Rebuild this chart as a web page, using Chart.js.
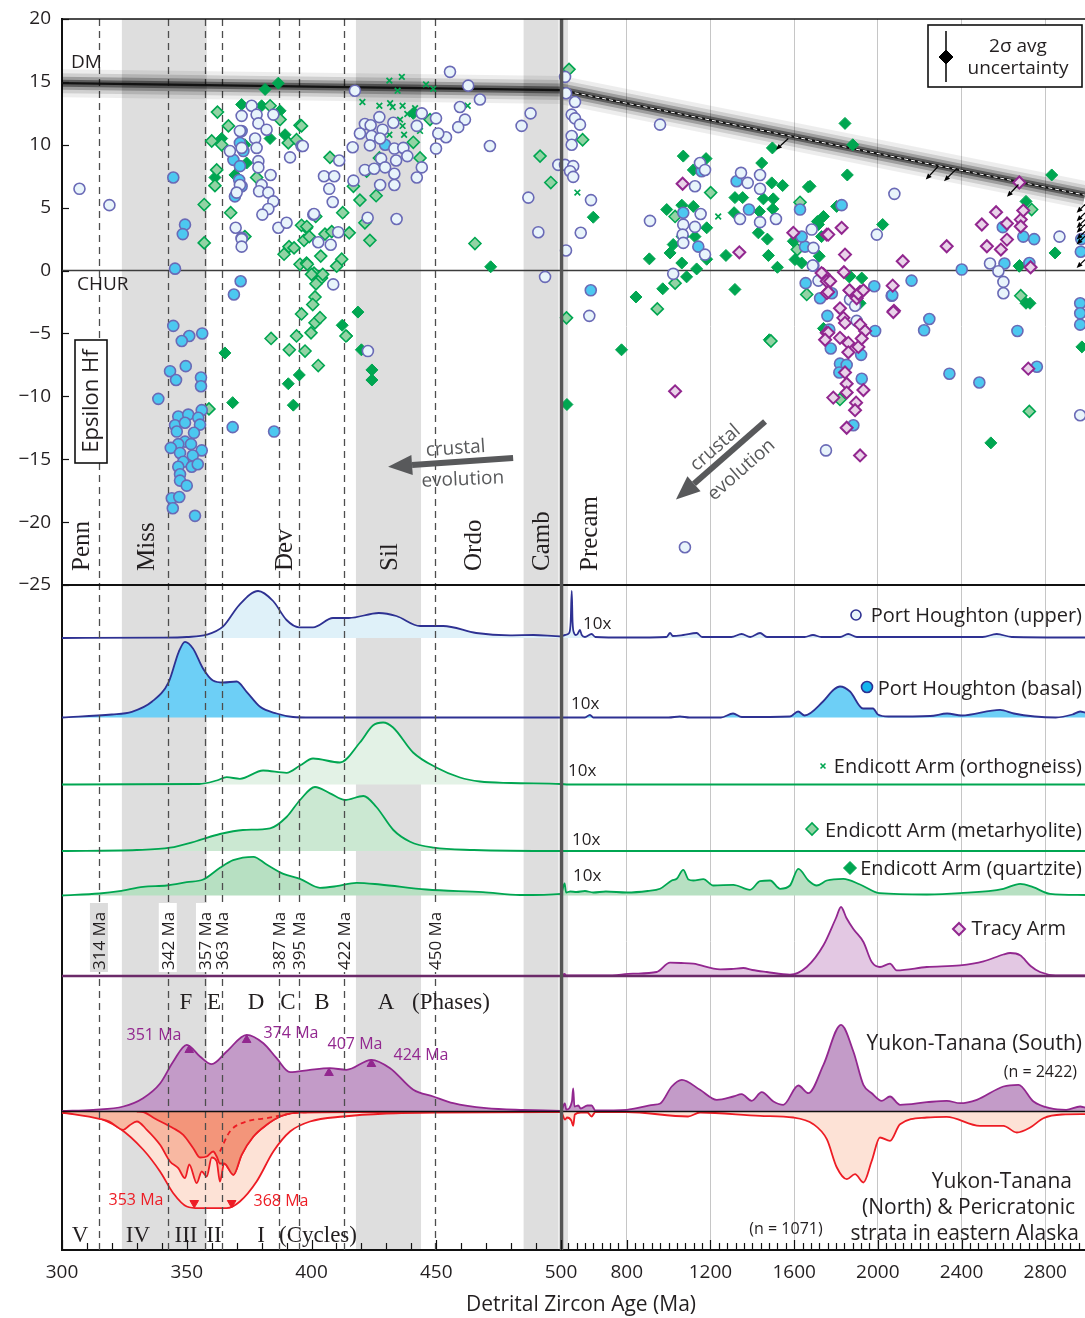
<!DOCTYPE html>
<html>
<head>
<meta charset="utf-8">
<script src="https://cdn.jsdelivr.net/npm/chart.js@4.4.1/dist/chart.umd.min.js"></script>
<style>
  body { margin: 0; background: #fff; }
  canvas { display: block; }
</style>
</head>
<body>
<canvas id="hfChart" width="1085" height="1318"></canvas>
<script>
// Hf isotope vs detrital zircon age, with stacked age spectra below

const SANS = '"Open Sans", "Noto Sans", sans-serif';
const SERIF = '"Liberation Serif", "DejaVu Serif", serif';
const INK = '#231f20';

// ---- tick labels ----
const ageLabels = [300, 350, 400, 450, 500, 800, 1200, 1600, 2000, 2400, 2800];
const gridAges = [800, 1200, 1600, 2000, 2400, 2800];
const epsTicks = [20, 15, 10, 5, 0, -5, -10, -15, -20, -25];

// ---- period bands / reference ages ----
const periodBands = [[324, 358], [417.8, 443.9], [485, 499]];
const periodNames = ['Penn', 'Miss', 'Dev', 'Sil', 'Ordo', 'Camb', 'Precam'];
const dashAges = [314.8, 342.4, 357.3, 364.2, 387, 394.9, 413.1, 449.4];
const dashLabels = ['314 Ma', '342 Ma', '357 Ma', '363 Ma', '387 Ma', '395 Ma', '422 Ma', '450 Ma'];

// ---- depleted mantle (age, eHf) ----
const dmLine = [[300, 14.9], [500, 14.35], [2990, 6.0]];
const dmRight = [[500, 14.35], [2990, 6.0]];
const dmArrows = [
  [1572, 10.5, 1513, 9.6], [2289, 8.3, 2229, 7.23], [2377, 8.1, 2316, 7.1], [2672, 6.84, 2617, 5.86],
  [2990, 5.25, 2950, 4.59], [2990, 4.59, 2950, 3.92], [2990, 4.05, 2950, 3.39], [2990, 3.66, 2950, 3.0],
  [2990, 3.12, 2950, 2.46], [2990, 2.73, 2950, 2.07], [2990, 0.87, 2950, 0.21]
];
const crustalArrows = [[480.8, -14.9, 430.7, -15.6], [1461, -12.0, 1035, -18.2]];

// ---- Hf data points (age Ma, epsilon Hf) ----
const upperPts = [
  [307, 6.5], [319, 5.2], [376, 13.1], [372, 12.3], [378, 12.4], [384.7, 12.4], [378.7, 11.7], [382, 11.2],
  [377.4, 10.5], [371.3, 11.1], [378, 9.75], [367.3, 9.5], [372, 9.75], [378.7, 8.7], [378.7, 8.2], [383.6, 7.6],
  [380, 6.8], [379, 6.3], [382.7, 6.2], [384.7, 5.5], [382.7, 4.9], [380.3, 4.45], [386.7, 3.4], [390, 3.8],
  [391.4, 9.0], [396, 9.9], [369.6, 3.4], [372, 2.5], [372, 1.9], [400.7, 4.45], [371.3, 6.8], [370, 6.2],
  [417.4, 14.3], [455.5, 15.8], [462.8, 14.7], [467.5, 13.6], [459.5, 13.0], [461.5, 12.0], [458.8, 11.4],
  [453.9, 10.6], [449.9, 12.1], [450.8, 10.9], [449.9, 9.7], [471.5, 9.9], [444.2, 12.5], [421.4, 11.65],
  [427.2, 12.2], [423.7, 11.55], [432.8, 11.75], [419.4, 10.9], [424.1, 10.7], [428.5, 11.2], [442.2, 11.5],
  [416.5, 9.8], [423.4, 9.95], [427.5, 10.5], [433.2, 9.7], [436.8, 9.75], [438.4, 9.1], [433.9, 8.75],
  [427.9, 8.9], [421.4, 8.0], [425.1, 8.1], [429.5, 8.2], [433.2, 7.7], [433.2, 6.8], [427.5, 6.8], [444.2, 8.2],
  [442.2, 7.4], [416.8, 7.15], [411.1, 8.75], [405, 7.5], [409.1, 7.5], [407.1, 6.5], [408.5, 5.45], [401, 4.5],
  [410.7, 3.05], [402.7, 2.25], [407.7, 2.05], [422.5, 4.2], [434.1, 4.1], [408.7, -1.1], [396.5, 9.9],
  [486.9, 5.8], [490.9, 3.05], [493.6, -0.5], [484.2, 11.5], [487.8, 12.5], [498.9, 8.4], [422.6, -6.4],
  [505, 15.4], [510, 14.1], [552.6, 13.4], [536.8, 12.4], [552.6, 12.1], [576.5, 11.6], [536.8, 10.7],
  [536.8, 10.0], [505, 8.4], [544, 8.3], [529, 7.9], [544, 7.45], [629, 5.6], [580, 3.0], [509.6, 1.6],
  [621, -3.6], [959, 11.6], [1150, 8.55], [1174, 8.0], [1126, 6.7], [911, 3.95], [1153, 4.5], [1126, 3.47],
  [1070, 3.65], [1067, 2.86], [1070, 2.2], [1174, 1.27], [1022, -0.26], [1346, 7.77], [1437, 7.6], [1378, 6.97],
  [1437, 6.5], [1341, 4.1], [1437, 3.85], [1513, 4.1], [1684, 3.26], [1692, 1.8], [1692, 0.4], [2079, 6.1],
  [1995, 2.86], [2536, 0.56], [2576, -0.05], [2600, -0.9], [2600, -1.8], [2868, 2.7], [1716, -0.8],
  [1867, -2.3], [1891, -2.8], [1899, -4.0], [1752, -14.3], [2967, -11.5], [1078, -22], [1689, 0.4]
];
const basalPts = [
  [344.6, 7.4], [349.3, 3.65], [348.4, 2.9], [345.3, 0.15], [371.6, -0.85], [368.9, -1.9], [371.3, 10.15],
  [368.7, 8.8], [371.3, 8.3], [371, 7.2], [369.3, 5.9], [372, 6.7], [372, 2.6], [372, 11.1], [372.7, 9.5],
  [429.5, 10.0], [344.6, -4.4], [351, -5.2], [348, -5.6], [356.2, -5.0], [349.6, -7.6], [343.3, -8.0],
  [345.7, -8.7], [355.7, -8.5], [355.7, -9.2], [338.6, -10.2], [356, -11.1], [368.4, -12.45], [385, -12.8],
  [346.6, -11.6], [350.6, -11.45], [354.6, -11.7], [345.3, -12.3], [349.3, -12.1], [355.3, -12.25], [346, -12.8],
  [352.9, -12.9], [349.3, -13.6], [346.6, -13.8], [351.7, -13.8], [343.6, -14.1], [356, -14.3], [347.3, -14.5],
  [352.4, -14.7], [348.6, -15.2], [346.6, -15.6], [352, -15.6], [354.4, -15.4], [347.3, -16.2], [347.3, -16.7],
  [350, -17.1], [344, -18.1], [347, -18.0], [344.4, -18.9], [353.3, -19.5],
  [1325, 7.1], [1384, 4.85], [1628, 4.85], [1070, 4.6], [1142, 1.9], [1652, 1.9], [1636, 2.7], [628, -1.57],
  [1655, -1.0], [1724, -2.2], [1158, 7.9], [1827, 5.2], [2401, 0.08], [2605, 0.56], [2695, 2.7], [2747, 2.5],
  [2597, 3.45], [2724, 0.6], [2161, -0.8], [1983, -1.25], [2066, -2.0], [1780, -1.8], [1759, -3.6],
  [2246, -3.85], [2221, -4.75], [1987, -4.8], [2667, -4.8], [2967, -2.6], [2967, -3.4], [2967, -4.3],
  [2970, 1.5], [2972, 2.5], [1768, -4.7], [1775, -6.2], [1819, -7.4], [1816, -8.1], [1851, -7.5],
  [1920, -6.7], [1923, -8.6], [1883, -12.3], [2342, -8.2], [2485, -8.9], [2760, -7.65], [2069, -1.96]
];
const orthoPts = [
  [431.2, 15.1], [436.2, 15.4], [434.5, 14.3], [445.9, 14.8], [448.8, 14.45], [420.4, 13.4], [427.2, 13.1],
  [431.5, 13.3], [432.5, 13.0], [436.5, 13.1], [441.5, 12.9], [438.4, 12.45], [435.5, 12.0], [462.6, 13.1],
  [436.5, 11.5], [437.1, 10.8], [431.2, 10.8], [443.5, 11.1], [564, 6.2], [1237, 4.3]
];
const metaPts = [
  [362.3, 12.6], [366.7, 11.5], [360, 10.3], [364, 10.0], [362, 8.0], [361.3, 6.75], [357, 5.25], [357, 2.2],
  [367.6, 4.6], [383.4, 13.1], [387.4, 12.0], [395.4, 11.55], [390.7, 10.15], [394, 10.4], [378, 7.4],
  [373.3, 2.7], [398, 3.4], [396, 3.6], [389, 1.3], [391, 1.9], [393, 1.8], [397, 2.4], [395.4, 0.5], [398, 0.6],
  [401, -0.2], [404, -0.6], [396, 11.5], [407.4, 9.0], [416.8, 6.7], [419.4, 5.6], [425.9, 5.95], [412.5, 4.6],
  [401.7, 4.3], [398.1, 3.5], [399.1, 2.7], [405.4, 2.9], [408.1, 3.1], [415.1, 3.0], [421.4, 3.8], [423.4, 2.4],
  [403.7, 1.15], [412.1, 0.9], [410.1, 0.35], [398.3, 0.5], [400, -0.3], [401.8, -1.05], [401.4, -2.1],
  [440.8, 10.2], [443.5, 8.95], [447.5, 12.0], [465.5, 2.15], [491.6, 9.1], [495.9, 7.0], [427.2, 8.95],
  [422.1, 7.9], [358.9, -11.0], [383.8, -5.4], [391.1, -6.3], [397.4, -6.4], [394, -5.2], [402.7, -7.55],
  [396, -3.45], [400.5, -2.7], [404.5, -0.3], [413.8, -5.2], [401.4, -4.15], [403.4, -3.75], [399.8, -4.95],
  [589, 10.4], [1201, 6.2], [1628, 5.43], [1031, 4.3], [1067, 2.7], [1031, -1.0], [946, -3.05], [512, -3.76],
  [1660, -1.9], [1615, 1.67], [2735, 4.85], [1819, -10.25], [2724, -11.2], [2683, -2.0], [1489, -5.6], [524, 16.0]
];
const quartzPts = [
  [381.4, 14.4], [386.7, 14.9], [372, 13.2], [380, 13.1], [387.4, 12.7], [364, 10.5], [383.4, 10.5],
  [389.4, 10.8], [361.3, 7.4], [373.3, 10.0], [374, 8.55], [369.3, 7.6], [471.8, 0.3], [440.8, 12.5],
  [365.3, -6.55], [368.4, -10.5], [390.7, -9.0], [395.1, -8.3], [392.7, -10.7], [412.3, -4.35], [414.1, -5.2],
  [418.6, -3.3], [420, -6.3], [424.2, -7.9], [424.2, -8.7],
  [1070, 9.1], [1179, 8.9], [1118, 8.0], [1445, 8.55], [1496, 9.75], [1493, 6.97], [1545, 6.76], [1668, 6.65],
  [1317, 5.8], [1354, 5.8], [1453, 5.7], [1500, 5.7], [640, 4.24], [991, 4.85], [1063, 5.2], [1118, 5.1],
  [1313, 4.6], [1434, 4.7], [1498, 4.9], [1022, 2.07], [1007, 1.4], [1126, 2.7], [1182, 3.4], [1182, 0.9],
  [1429, 3.0], [1472, 2.5], [908, 0.93], [1274, 1.2], [1477, 1.2], [1520, 0.26], [1063, 0.6], [1134, 0.13],
  [1086, -0.5], [972, -1.45], [844, -2.1], [1317, -1.5], [1596, 2.33], [1604, 0.87], [1636, 0.6], [1740, 4.3],
  [1716, 3.66], [1481, -5.5], [1843, 11.7], [1880, 10.0], [1854, 7.6], [1676, 6.7], [2023, 3.66], [2831, 7.6],
  [2847, 1.4], [2708, 5.5], [2676, 0.34], [2708, -2.6], [1711, 3.9], [1720, 1.14], [1863, -0.5], [1923, -0.6],
  [1803, 5.1], [1731, 2.7], [1915, -2.6], [2727, -2.6], [2677, 0.4], [1740, -4.6], [2540, -13.7], [2975, -6.07],
  [775, -6.3], [514, -10.65], [1867, -0.45]
];
const tracyPts = [
  [1067, 6.9], [1338, 1.45], [1596, 3.0], [1756, 2.86], [1740, -0.3], [1756, -0.85], [1756, -1.8], [1756, -4.95],
  [2676, 7.0], [2565, 4.64], [2497, 3.66], [2617, 3.74], [2683, 4.05], [2683, 3.5], [2695, 4.77], [2617, 2.46],
  [2521, 1.93], [2588, 1.67], [2730, 0.26], [2329, 1.93], [2119, 0.74], [1763, 2.86], [1827, 3.4], [1843, 1.27],
  [1731, -0.2], [1772, -0.85], [2071, -1.2], [2077, -3.2], [1763, -1.7], [1867, -1.6], [1915, -1.7], [1899, -2.2],
  [1819, -3.0], [1838, -0.13], [1864, -1.57], [1907, -1.85], [1931, -1.57], [1835, -3.76], [1843, -4.16],
  [1915, -4.3], [1939, -4.8], [1763, -4.95], [1748, -5.5], [1819, -5.35], [1859, -5.75], [1859, -6.5],
  [1907, -6.07], [1923, -5.4], [1843, -8.1], [1851, -9.0], [1851, -9.7], [1931, -9.5], [1787, -10.1],
  [1896, -10.5], [1891, -11.1], [1851, -12.5], [1915, -14.7], [2074, -3.3], [2719, -7.8], [1031, -9.6]
];

// ---- age spectra (age Ma, relative height) ----
const upperKde = [
  [300, 0], [340, 0.3], [350, 1], [358, 3.3], [364.6, 11.7], [371, 33], [378.6, 47], [384.6, 37], [390, 18],
  [395, 10.7], [400.6, 10.7], [408.6, 20], [415, 20], [427, 25], [434, 22], [443.5, 12], [452.8, 12], [466, 5],
  [479.6, 2.7], [489, 3], [500, 1.7], [505, 3], [525, 5], [532, 16], [537, 47], [541, 16], [548, 5], [556, 3],
  [565, 4], [576, 8], [585, 3], [600, 1], [632, 4], [650, 1], [800, 0.5], [990, 1], [1007, 5], [1020, 2],
  [1070, 3], [1134, 5], [1160, 1], [1300, 1], [1349, 4], [1390, 1], [1437, 5], [1470, 1], [1650, 1], [1690, 3],
  [1730, 1], [1820, 1], [1858, 4], [1900, 1], [2500, 1], [2568, 4], [2640, 1], [2990, 0.5]
];
const basalKde = [
  [300, 0], [320, 3], [328, 5.7], [336, 15.7], [342.8, 35.7], [346.8, 65.7], [349.3, 75.7], [352.5, 69],
  [356.5, 49], [360.5, 37], [364.6, 35], [370, 36], [374, 25.7], [379.4, 10.7], [386, 4], [392.6, 0.5], [400, 0],
  [500, 0], [600, 0], [624, 2.7], [640, 0], [1000, 0], [1054, 1], [1100, 0], [1250, 0], [1308, 4], [1350, 0.5],
  [1580, 1], [1619, 6], [1650, 2], [1738, 16], [1790, 28], [1819, 31], [1867, 26], [1929, 9], [1977, 9],
  [2000, 3], [2050, 1], [2250, 1.5], [2331, 4], [2400, 2], [2584, 7.7], [2650, 4], [2750, 1], [2850, 0],
  [2930, 3], [2967, 6], [2990, 5]
];
const orthoKde = [
  [300, 0], [355, 0.5], [362, 4], [366, 7.3], [371.3, 5.7], [380.6, 14], [390, 11.7], [395.4, 19], [400.6, 26],
  [411.4, 22], [419.4, 42], [424.6, 59], [428.7, 62], [432.7, 57], [440.7, 32], [450, 17], [459.5, 7],
  [467.5, 3], [480, 1.5], [500, 0.5], [520, 0], [2990, 0]
];
const metaKde = [
  [300, 0], [330, 1], [343.3, 3.3], [354, 10], [363.3, 17], [372.5, 21], [383.4, 22.7], [390, 34], [395.4, 51],
  [401.4, 64], [407.4, 57.7], [413.4, 51], [420.8, 55], [426, 44], [432.8, 21], [439.5, 9.3], [449, 3.3],
  [465, 1], [500, 0], [520, 0], [2990, 0]
];
const quartzKde = [
  [300, 0], [315, 2], [323, 4.3], [332.5, 8.7], [342, 10], [350, 13.3], [356.6, 16], [363.3, 27.7], [368.6, 35.3],
  [376.7, 38.7], [382, 31], [388.7, 21.7], [395.4, 16.7], [403.4, 7.7], [410, 9.3], [418, 12.7], [427.5, 11],
  [446, 6], [468.7, 3.3], [483.6, 0.5], [500, 1.7], [503, 12], [510, 3], [530, 4], [560, 3.5], [600, 4.5],
  [640, 3], [700, 4], [800, 3], [900, 4.5], [959, 6.7], [1015, 15], [1040, 17], [1070, 25.7], [1095, 16],
  [1118, 15], [1166, 16.3], [1214, 10], [1309, 10.7], [1389, 5.7], [1437, 14.3], [1485, 15], [1533, 6.7],
  [1580, 10], [1620, 26.7], [1668, 15], [1708, 10], [1756, 15], [1835, 16.7], [1915, 11], [2010, 2.3],
  [2234, 1], [2393, 2.3], [2600, 6.7], [2680, 11.7], [2742, 8.3], [2823, 1.7], [2990, 0.5]
];
const tracyKde = [
  [300, 0], [500, 0], [503, 2], [510, 0.5], [700, 0.5], [830, 2.3], [943, 4], [1007, 13.3], [1060, 13],
  [1118, 12.3], [1246, 6.7], [1300, 7], [1357, 8], [1400, 6], [1469, 4], [1580, 1.3], [1660, 9], [1740, 30.7],
  [1800, 58], [1824, 69], [1850, 58], [1883, 47], [1931, 34], [1971, 14], [2010, 9], [2058, 12.3], [2090, 5.7],
  [2234, 9], [2393, 10.7], [2505, 14.7], [2600, 21.5], [2632, 23], [2680, 20.7], [2730, 10], [2775, 4],
  [2850, 0.7], [2990, 0.7]
];
const yukonSouthKde = [
  [300, 0.5], [312.5, 1.7], [324.6, 5], [332.5, 13.3], [339.3, 28], [344.6, 50], [350, 66.7], [355.3, 55],
  [360, 47.3], [366, 60], [374, 76.7], [380.7, 68.3], [386, 53.3], [391.4, 39.3], [399.4, 41.7], [407.4, 43.3],
  [414, 41.7], [424, 51.7], [431.5, 43.3], [440.8, 21.7], [448.8, 15], [456.8, 8.3], [470, 3.3], [485, 1.5],
  [500, 0.7], [504, 8], [511, 2], [538, 10], [544, 23], [550, 5], [568, 6], [580, 3], [612, 6], [632, 6],
  [650, 1], [800, 1.7], [927, 6.7], [960, 8], [1015, 25], [1063, 31.7], [1150, 21.7], [1230, 11.7], [1309, 15],
  [1349, 17.3], [1397, 10.7], [1445, 19.3], [1501, 10], [1548, 6.7], [1620, 26], [1668, 18.3], [1740, 46.7],
  [1824, 86.7], [1883, 60], [1931, 26.7], [1971, 18.3], [2019, 10.7], [2058, 15], [2106, 6.7], [2234, 9.3],
  [2329, 10.7], [2393, 8.3], [2473, 11.7], [2600, 25], [2672, 26.7], [2744, 10], [2823, 3.3], [2900, 1.7],
  [2967, 5], [2990, 4]
];
const yukonNorthKde = [
  [300, 1], [312.5, 5], [323, 16.7], [332.5, 38], [339.3, 60], [344.6, 81.7], [350, 95], [355, 96.7],
  [366, 96.7], [371.3, 90], [378, 70], [384.7, 40], [391.4, 20], [399.4, 10], [412.7, 5], [430, 2], [450, 1],
  [500, 0.7], [505, 8], [515, 6], [535, 9], [544, 14.3], [552, 3], [580, 1], [612, 1], [632, 5], [650, 0.5],
  [800, 0.5], [1093, 5], [1150, 1], [1437, 4.3], [1596, 6], [1692, 12.7], [1756, 27.7], [1804, 56],
  [1852, 67.7], [1891, 62.7], [1931, 71], [1971, 49.3], [2010, 26], [2058, 29.3], [2106, 12.7], [2234, 6],
  [2329, 5.3], [2488, 14.3], [2600, 14.3], [2664, 21], [2728, 16], [2791, 6.7], [2880, 3], [2990, 2.7]
];
const yukonNorthJag = [
  [300, 1], [315, 7.3], [319, 10], [324.6, 18.3], [327, 14], [330, 10], [334, 18.3], [339.3, 33.3],
  [343.3, 50], [346.6, 56.7], [349.3, 66.7], [351, 53], [354, 71.7], [356, 60], [358, 65], [360, 46],
  [362, 50], [363.3, 70], [365, 52], [368.7, 63.3], [372, 43.3], [376.7, 25], [382, 13.3], [387.4, 5],
  [394, 1], [420, 0.5], [500, 0.3]
];
const yukonNorthInner = [
  [330, 0], [332.6, 0.5], [337, 6.7], [344.6, 16.7], [348.6, 23.3], [352.6, 36.7], [355.3, 46], [358, 45],
  [360.6, 40], [362, 45], [363.3, 52], [365, 52], [368.7, 63.3], [372, 43.3], [376.7, 25], [382, 13.3],
  [387.4, 5], [394, 1], [400, 0]
];
const yukonNorthDash = [[363.3, 40], [367.3, 20], [374, 10], [382, 6.7], [392.6, 1.7], [400, 0.5]];

// peak markers (age, level on spectrum axis)
const southPeaks = [[351, 200], [374, 210], [407, 177], [424, 186]];
const northPeaks = [[353, 47], [368, 47]];

// ---- layout of the lower panel (spectrum axis, px-like units from the bottom) ----
const BASE = { upper: 612, basal: 532.5, ortho: 465.5, meta: 399, quartz: 354.5, tracy: 274, yukon: 138.5 };

// ---- broken age axis: 300-500 Ma linear on the left, 500-2990 Ma compressed on the right ----
const AGE_MIN = 300, AGE_BREAK = 500, AGE_MAX = 2990;
const LEFT_SHARE = 0.4878, RIGHT_START = 0.4907;

class BrokenAgeScale extends Chart.LinearScale {
  buildTicks() {
    const list = [];
    for (let v = AGE_MIN; v <= AGE_BREAK; v += 10) list.push({ value: v });
    for (let v = 520; v <= AGE_MAX; v += 40) list.push({ value: v });
    return list;
  }
  ageToDecimal(v) {
    if (v <= AGE_BREAK) return (v - AGE_MIN) / (AGE_BREAK - AGE_MIN) * LEFT_SHARE;
    return RIGHT_START + (v - AGE_BREAK) / (AGE_MAX - AGE_BREAK) * (1 - RIGHT_START);
  }
  getPixelForValue(v) {
    return this.getPixelForDecimal(this.ageToDecimal(v));
  }
  getValueForPixel(p) {
    const d = this.getDecimalForPixel(p);
    if (d <= LEFT_SHARE) return AGE_MIN + d / LEFT_SHARE * (AGE_BREAK - AGE_MIN);
    return AGE_BREAK + (d - RIGHT_START) / (1 - RIGHT_START) * (AGE_MAX - AGE_BREAK);
  }
}
BrokenAgeScale.id = 'brokenAge';
BrokenAgeScale.defaults = Chart.LinearScale.defaults;
Chart.register(BrokenAgeScale);

// ---- dataset builders ----
function dotSet(label, pts, style, radius, fill, stroke, width, order) {
  return {
    type: 'scatter', label, order, yAxisID: 'y',
    data: pts.map(([a, e]) => ({ x: a, y: e })),
    pointStyle: style, pointRadius: radius, backgroundColor: fill,
    borderColor: stroke, borderWidth: width
  };
}

function kdeSet(label, pts, base, line, fill, order, down, dash) {
  return {
    type: 'line', label, order, yAxisID: 'k',
    data: pts.map(([a, h]) => ({ x: a, y: down ? base - h : base + h })),
    borderColor: line, borderWidth: 1.8, backgroundColor: fill || 'rgba(0,0,0,0)',
    fill: fill ? { value: base } : false,
    borderDash: dash || [],
    pointRadius: 0, cubicInterpolationMode: 'monotone'
  };
}

function dmSet(label, pts, width, color, order, dash) {
  return {
    type: 'line', label, order, yAxisID: 'y',
    data: pts.map(([a, e]) => ({ x: a, y: e })),
    borderColor: color, borderWidth: width, borderDash: dash || [],
    pointRadius: 0, fill: false, tension: 0, borderCapStyle: 'butt'
  };
}

function peakSet(label, pts, color, rotation) {
  return {
    type: 'scatter', label, order: 0, yAxisID: 'k',
    data: pts.map(([a, k]) => ({ x: a, y: k })),
    pointStyle: 'triangle', pointRadius: 5, rotation,
    backgroundColor: color, borderColor: color, borderWidth: 1
  };
}

const datasets = [
  dotSet('Tracy Arm', tracyPts, 'rectRot', 6, '#e9d3e9', '#92278f', 2, 1),
  dotSet('Port Houghton (upper)', upperPts, 'circle', 5.5, '#e8f4fb', '#6a6ab6', 1.6, 2),
  dotSet('Port Houghton (basal)', basalPts, 'circle', 5.5, '#4cc8f0', '#6a6ab6', 1.6, 3),
  dotSet('Endicott Arm (orthogneiss)', orthoPts, 'crossRot', 4, '#00a651', '#00a651', 1.7, 4),
  dotSet('Endicott Arm (metarhyolite)', metaPts, 'rectRot', 6, '#92d3a4', '#00a651', 1.6, 5),
  dotSet('Endicott Arm (quartzite)', quartzPts, 'rectRot', 6, '#00a651', '#00a651', 1, 6),
  peakSet('south peaks', southPeaks, '#92278f', 0),
  peakSet('north peaks', northPeaks, '#ed1c24', 180),
  dmSet('DM dash', dmRight, 1, '#ffffff', 9, [4, 3]),
  dmSet('DM core', dmLine, 2.2, 'rgba(15,15,15,0.95)', 10),
  dmSet('DM 4', dmLine, 7, 'rgba(0,0,0,0.42)', 11),
  dmSet('DM 3', dmLine, 13, 'rgba(0,0,0,0.24)', 12),
  dmSet('DM 2', dmLine, 20, 'rgba(0,0,0,0.13)', 13),
  dmSet('DM halo', dmLine, 28, 'rgba(0,0,0,0.07)', 14),
  kdeSet('upper kde', upperKde, BASE.upper, '#2e3192', '#dff1f9', 20),
  kdeSet('basal kde', basalKde, BASE.basal, '#2e3192', '#6dcff6', 21),
  kdeSet('ortho kde', orthoKde, BASE.ortho, '#00a651', '#e3f2e6', 22),
  kdeSet('meta kde', metaKde, BASE.meta, '#00a651', '#cbe8d2', 23),
  kdeSet('quartz kde', quartzKde, BASE.quartz, '#00a651', '#b7e0c2', 24),
  kdeSet('tracy kde', tracyKde, BASE.tracy, '#92278f', '#e3c8e3', 25),
  kdeSet('south kde', yukonSouthKde, BASE.yukon, '#92278f', '#c39bc8', 26),
  kdeSet('north dash', yukonNorthDash, BASE.yukon, '#ed1c24', null, 27, true, [5, 4]),
  kdeSet('north inner', yukonNorthInner, BASE.yukon, '#ed1c24', '#f3957a', 28, true),
  kdeSet('north jag', yukonNorthJag, BASE.yukon, '#ed1c24', '#f8b8a2', 29, true),
  kdeSet('north kde', yukonNorthKde, BASE.yukon, '#ed1c24', '#fde2d6', 30, true)
];

// ---- drawing helpers ----
function drawText(ctx, str, x, y, font, color, align, rot, base) {
  ctx.save();
  ctx.translate(x, y);
  if (rot) ctx.rotate(rot);
  ctx.font = font;
  ctx.fillStyle = color || INK;
  ctx.textAlign = align || 'left';
  ctx.textBaseline = base || 'alphabetic';
  ctx.fillText(str, 0, 0);
  ctx.restore();
}

function arrow(ctx, x0, y0, x1, y1, width, head, headW, color) {
  const ang = Math.atan2(y1 - y0, x1 - x0);
  const bx = x1 - Math.cos(ang) * head, by = y1 - Math.sin(ang) * head;
  ctx.strokeStyle = color;
  ctx.lineWidth = width;
  ctx.beginPath();
  ctx.moveTo(x0, y0);
  ctx.lineTo(bx, by);
  ctx.stroke();
  ctx.fillStyle = color;
  ctx.beginPath();
  ctx.moveTo(x1, y1);
  ctx.lineTo(bx + Math.sin(ang) * headW / 2, by - Math.cos(ang) * headW / 2);
  ctx.lineTo(bx - Math.sin(ang) * headW / 2, by + Math.cos(ang) * headW / 2);
  ctx.closePath();
  ctx.fill();
}

function symbol(ctx, style, x, y, radius, fill, stroke, width) {
  ctx.save();
  ctx.fillStyle = fill;
  ctx.strokeStyle = stroke;
  ctx.lineWidth = width;
  Chart.helpers.drawPoint(ctx, { pointStyle: style, radius, rotation: 0, borderWidth: width }, x, y);
  ctx.restore();
}

function hline(ctx, y, x0, x1, color, width) {
  ctx.strokeStyle = color;
  ctx.lineWidth = width;
  ctx.beginPath();
  ctx.moveTo(x0, y);
  ctx.lineTo(x1, y);
  ctx.stroke();
}

const decorPlugin = {
  id: 'decor',
  beforeDatasetsDraw(chart) {
    const { ctx, chartArea: a, scales: { x, y } } = chart;
    ctx.save();
    ctx.fillStyle = '#dedede';
    periodBands.forEach(([a0, a1]) => {
      const x0 = x.getPixelForValue(a0), x1 = x.getPixelForValue(a1);
      ctx.fillRect(x0, a.top, x1 - x0, a.bottom - a.top - 1);
    });
    ctx.fillStyle = '#e2e2e2';
    ctx.fillRect(x.getPixelForValue(AGE_BREAK) + 2, a.top, 5, a.bottom - a.top - 1);
    hline(ctx, y.getPixelForValue(0), a.left, a.right, '#3c3c3c', 1.6);
    ctx.restore();
  },
  beforeDatasetDraw(chart, args) {
    if (chart.data.datasets[args.index].label !== 'DM halo') return;
    const { ctx, chartArea: a, scales: { x, y, k } } = chart;
    ctx.save();
    ctx.strokeStyle = '#4d4d4d';
    ctx.lineWidth = 1.3;
    ctx.setLineDash([7, 5]);
    dashAges.forEach(v => {
      const px = Math.round(x.getPixelForValue(v)) + 0.5;
      ctx.beginPath();
      ctx.moveTo(px, a.top);
      ctx.lineTo(px, a.bottom);
      ctx.stroke();
    });
    ctx.setLineDash([]);
    hline(ctx, y.getPixelForValue(-25), a.left, a.right, '#111', 2);
    hline(ctx, k.getPixelForValue(BASE.tracy), a.left, a.right, '#6b2a69', 2.4);
    hline(ctx, k.getPixelForValue(BASE.yukon), a.left, a.right, '#111', 1.6);
    ctx.restore();
  },
  afterDatasetsDraw(chart) {
    const { ctx, chartArea: a, scales: { x, y } } = chart;
    ctx.save();

    // break between Phanerozoic and Precambrian scales
    ctx.strokeStyle = '#555';
    ctx.lineWidth = 3.5;
    const xb = x.getPixelForValue(AGE_BREAK) + 0.5;
    ctx.beginPath();
    ctx.moveTo(xb, a.top);
    ctx.lineTo(xb, a.bottom);
    ctx.stroke();

    // top frame
    hline(ctx, a.top, a.left, a.right, '#111', 1.6);

    // inward ticks
    ctx.strokeStyle = '#111';
    ctx.lineWidth = 1.2;
    x.ticks.forEach(t => {
      const px = Math.round(x.getPixelForValue(t.value)) + 0.5;
      const len = ageLabels.includes(t.value) ? 10 : 7;
      ctx.beginPath();
      ctx.moveTo(px, a.bottom);
      ctx.lineTo(px, a.bottom - len);
      ctx.stroke();
    });
    epsTicks.forEach(v => {
      const py = Math.round(y.getPixelForValue(v)) + 0.5;
      ctx.beginPath();
      ctx.moveTo(a.left, py);
      ctx.lineTo(a.left + 7, py);
      ctx.stroke();
    });

    // small trajectory arrows below the DM band
    dmArrows.forEach(([a0, e0, a1, e1]) => {
      arrow(ctx, x.getPixelForValue(a0), y.getPixelForValue(e0), x.getPixelForValue(a1), y.getPixelForValue(e1),
        1.2, 6, 5, '#000');
    });
    // crustal evolution arrows
    crustalArrows.forEach(([a0, e0, a1, e1]) => {
      arrow(ctx, x.getPixelForValue(a0), y.getPixelForValue(e0), x.getPixelForValue(a1), y.getPixelForValue(e1),
        6, 24, 20, '#58595b');
    });
    const f19 = '19px ' + SANS;
    drawText(ctx, 'crustal', 456, 454, f19, '#58595b', 'center', -0.07);
    drawText(ctx, 'evolution', 463, 485, f19, '#58595b', 'center', -0.04);
    drawText(ctx, 'crustal', 719, 452, f19, '#58595b', 'center', -0.72);
    drawText(ctx, 'evolution', 745, 474, f19, '#58595b', 'center', -0.72);

    // panel labels
    drawText(ctx, 'DM', 71, 68, '19px ' + SANS);
    drawText(ctx, 'CHUR', 77, 290, '19px ' + SANS);
    const periodX = [82, 147, 285, 390, 474, 542, 590];
    periodNames.forEach((n, i) => {
      drawText(ctx, n, periodX[i], 571, '25px ' + SERIF, INK, 'left', -Math.PI / 2, 'middle');
    });

    // y-axis title box
    ctx.fillStyle = '#fff';
    ctx.fillRect(75, 340, 32, 123);
    ctx.strokeStyle = '#111';
    ctx.lineWidth = 1.6;
    ctx.strokeRect(75, 340, 32, 123);
    drawText(ctx, 'Epsilon Hf', 92, 401, '22px ' + SANS, INK, 'center', -Math.PI / 2, 'middle');

    // uncertainty key
    ctx.fillStyle = '#fff';
    ctx.fillRect(928, 25, 154, 62);
    ctx.strokeRect(928, 25, 154, 62);
    ctx.lineWidth = 1.6;
    ctx.beginPath();
    ctx.moveTo(946, 31);
    ctx.lineTo(946, 82);
    ctx.stroke();
    symbol(ctx, 'rectRot', 946, 57, 7, '#000', '#000', 1);
    drawText(ctx, '2σ avg', 1018, 52, '19px ' + SANS, INK, 'center');
    drawText(ctx, 'uncertainty', 1018, 74, '19px ' + SANS, INK, 'center');

    // spectrum labels
    const f20 = '20px ' + SANS;
    drawText(ctx, 'Port Houghton (upper)', 1082, 622, f20, INK, 'right');
    symbol(ctx, 'circle', 856, 615, 5, '#e8f4fb', '#2e3192', 1.6);
    drawText(ctx, 'Port Houghton (basal)', 1082, 695, f20, INK, 'right');
    symbol(ctx, 'circle', 867, 687, 5.5, '#12b5ee', '#2e3192', 1.6);
    drawText(ctx, 'Endicott Arm (orthogneiss)', 1082, 773, f20, INK, 'right');
    symbol(ctx, 'crossRot', 823, 766, 3.5, '#00a651', '#00a651', 1.6);
    drawText(ctx, 'Endicott Arm (metarhyolite)', 1082, 837, f20, INK, 'right');
    symbol(ctx, 'rectRot', 812, 829, 6, '#92d3a4', '#00a651', 1.6);
    drawText(ctx, 'Endicott Arm (quartzite)', 1082, 875, f20, INK, 'right');
    symbol(ctx, 'rectRot', 850, 868, 6.5, '#00a651', '#00a651', 1);
    drawText(ctx, 'Tracy Arm', 1066, 935, f20, INK, 'right');
    symbol(ctx, 'rectRot', 959, 929, 6, '#e9d3e9', '#92278f', 2);

    const f17 = '17px ' + SANS;
    [[583, 629], [571, 709], [568, 776], [572, 845], [573, 881]].forEach(([tx, ty]) => {
      drawText(ctx, '10x', tx, ty, f17);
    });

    // reference ages
    dashAges.forEach((v, i) => {
      const px = x.getPixelForValue(v);
      ctx.fillStyle = i === 0 ? '#dcdcdc' : '#fff';
      ctx.fillRect(px - 9, 903, 18, 69);
      drawText(ctx, dashLabels[i], px + 1, 970, f17, INK, 'left', -Math.PI / 2, 'middle');
    });

    // phases and cycles
    const f23 = '23px ' + SERIF;
    [['F', 186], ['E', 214], ['D', 256], ['C', 288], ['B', 322], ['A', 386], ['(Phases)', 451]].forEach(([s, tx]) => {
      drawText(ctx, s, tx, 1009, f23, INK, 'center');
    });
    [['V', 80], ['IV', 138], ['III', 186], ['II', 214], ['I', 261], ['(Cycles)', 318]].forEach(([s, tx]) => {
      drawText(ctx, s, tx, 1242, f23, INK, 'center');
    });

    const f16 = '16px ' + SANS;
    [['351 Ma', 154, 1040], ['374 Ma', 291, 1038], ['407 Ma', 355, 1049], ['424 Ma', 421, 1060]].forEach(([s, tx, ty]) => {
      drawText(ctx, s, tx, ty, f16, '#92278f', 'center');
    });
    [['353 Ma', 136, 1205], ['368 Ma', 281, 1206]].forEach(([s, tx, ty]) => {
      drawText(ctx, s, tx, ty, f16, '#ed1c24', 'center');
    });

    drawText(ctx, 'Yukon-Tanana (South)', 1082, 1050, '21px ' + SANS, INK, 'right');
    drawText(ctx, '(n = 2422)', 1077, 1077, f16, INK, 'right');
    drawText(ctx, 'Yukon-Tanana', 1072, 1188, '21px ' + SANS, INK, 'right');
    drawText(ctx, '(North) & Pericratonic', 1075, 1214, '21px ' + SANS, INK, 'right');
    drawText(ctx, 'strata in eastern Alaska', 1079, 1240, '21px ' + SANS, INK, 'right');
    drawText(ctx, '(n = 1071)', 786, 1234, f16, INK, 'center');

    // axis title
    drawText(ctx, 'Detrital Zircon Age (Ma)', 581, 1311, '21px ' + SANS, INK, 'center');
    ctx.restore();
  }
};

new Chart(document.getElementById('hfChart'), {
  type: 'scatter',
  data: { datasets },
  options: {
    responsive: false,
    animation: false,
    devicePixelRatio: 1,
    events: [],
    layout: { autoPadding: false, padding: { top: 19, right: 0, left: 0, bottom: 0 } },
    plugins: { legend: { display: false }, tooltip: { enabled: false } },
    scales: {
      x: {
        type: 'brokenAge',
        position: 'bottom',
        min: AGE_MIN,
        max: AGE_MAX,
        afterFit: s => { s.height = 68; s.paddingLeft = 0; s.paddingRight = 0; },
        grid: {
          drawTicks: false,
          lineWidth: 1,
          color: c => (c.tick && gridAges.includes(c.tick.value)) ? '#c6c6c6' : 'rgba(0,0,0,0)'
        },
        border: { display: true, color: '#111', width: 2 },
        ticks: {
          autoSkip: false,
          maxRotation: 0,
          padding: 11,
          color: INK,
          font: { size: 19, family: SANS },
          callback: v => ageLabels.includes(v) ? String(v) : ''
        }
      },
      y: {
        position: 'left',
        min: -77.87,
        max: 20,
        afterFit: s => { s.width = 62; s.paddingTop = 0; s.paddingBottom = 0; },
        afterBuildTicks: s => { s.ticks = epsTicks.map(v => ({ value: v })); },
        grid: { display: false, drawTicks: false },
        border: { display: true, color: '#111', width: 2 },
        ticks: {
          padding: 11,
          color: INK,
          font: { size: 19, family: SANS },
          callback: v => v < 0 ? '\u2212' + Math.abs(v) : String(v)
        }
      },
      k: {
        type: 'linear',
        position: 'left',
        min: 0,
        max: 1231,
        display: false
      }
    }
  },
  plugins: [decorPlugin]
});
</script>
</body>
</html>
